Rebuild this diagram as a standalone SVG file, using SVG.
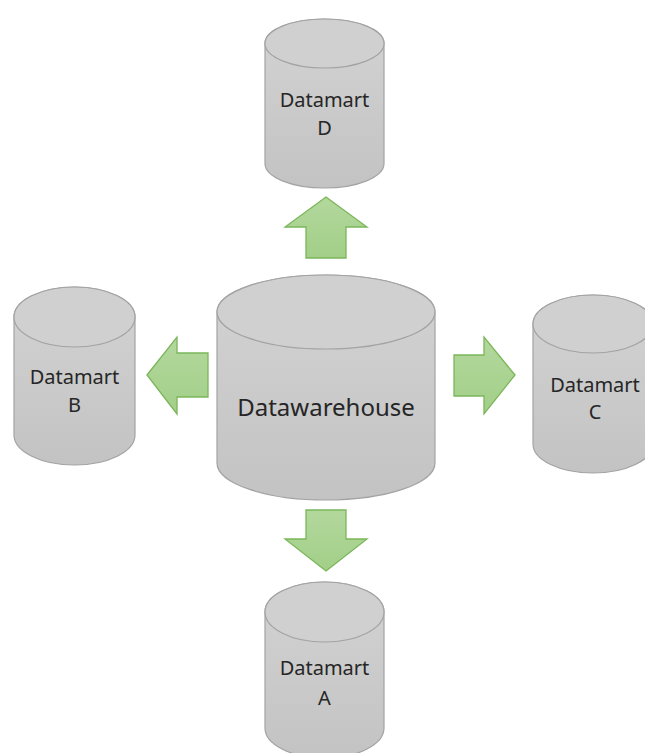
<svg xmlns="http://www.w3.org/2000/svg" width="645" height="753" viewBox="0 0 645 753">
  <defs>
    <linearGradient id="gray" x1="0" y1="0" x2="0" y2="1">
      <stop offset="0" stop-color="#d3d3d3"/>
      <stop offset="1" stop-color="#c3c3c3"/>
    </linearGradient>
    <linearGradient id="green" x1="0" y1="0" x2="0" y2="1">
      <stop offset="0" stop-color="#b3d89d"/>
      <stop offset="1" stop-color="#a2cf88"/>
    </linearGradient>
    <style>
      .body { fill: url(#gray); stroke: #a3a3a3; stroke-width: 1.2; }
      .top { fill: #d0d0d0; stroke: #a3a3a3; stroke-width: 1.2; }
      .lbl { font-family: "Noto Sans", "Open Sans", sans-serif; fill: #262626; text-anchor: middle; }
      .sm { font-size: 20px; }
      .lg { font-size: 24px; }
      .arrow { fill: url(#green); stroke: #7bb65a; stroke-width: 1.3; stroke-linejoin: miter; }
    </style>
  </defs>

  <rect width="645" height="753" fill="#ffffff"/>

  <!-- central warehouse -->
  <g id="datawarehouse">
    <path class="body" d="M217,312 V463 A109,37 0 0 0 435,463 V312 A109,37 0 0 0 217,312 Z"/>
    <ellipse class="top" cx="326" cy="312" rx="109" ry="37"/>
    <text class="lbl lg" x="326" y="416">Datawarehouse</text>
  </g>

  <!-- datamart D (top) -->
  <g id="datamart-d">
    <path class="body" d="M265,43.5 V163.5 A59.5,24.5 0 0 0 384,163.5 V43.5 A59.5,24.5 0 0 0 265,43.5 Z"/>
    <ellipse class="top" cx="324.5" cy="43.5" rx="59.5" ry="24.5"/>
    <text class="lbl sm" x="324.5" y="107">Datamart</text>
    <text class="lbl sm" x="324.5" y="135">D</text>
  </g>

  <!-- datamart B (left) -->
  <g id="datamart-b">
    <path class="body" d="M14,317 V435 A60.5,30 0 0 0 135,435 V317 A60.5,30 0 0 0 14,317 Z"/>
    <ellipse class="top" cx="74.5" cy="317" rx="60.5" ry="30"/>
    <text class="lbl sm" x="74.5" y="384">Datamart</text>
    <text class="lbl sm" x="74.5" y="412">B</text>
  </g>

  <!-- datamart C (right) -->
  <g id="datamart-c">
    <path class="body" d="M533,324 V444 A60,29 0 0 0 653,444 V324 A60,29 0 0 0 533,324 Z"/>
    <ellipse class="top" cx="593" cy="324" rx="60" ry="29"/>
    <text class="lbl sm" x="595" y="392">Datamart</text>
    <text class="lbl sm" x="595" y="419">C</text>
  </g>

  <!-- datamart A (bottom) -->
  <g id="datamart-a">
    <path class="body" d="M265,612 V728 A59.5,30 0 0 0 384,728 V612 A59.5,30 0 0 0 265,612 Z"/>
    <ellipse class="top" cx="324.5" cy="612" rx="59.5" ry="30"/>
    <text class="lbl sm" x="324.5" y="675">Datamart</text>
    <text class="lbl sm" x="324.5" y="705">A</text>
  </g>

  <!-- block arrows from the warehouse to each mart -->
  <g id="connectors">
    <polygon class="arrow" points="326,197 367,227 346,227 346,258 306,258 306,227 285,227"/>
    <polygon class="arrow" points="326,571 367,539 346,539 346,510 306,510 306,539 285,539"/>
    <polygon class="arrow" points="147,375 177,337 177,353 208,353 208,397 177,397 177,414"/>
    <polygon class="arrow" points="515,375 484,337 484,355 454,355 454,396 484,396 484,414"/>
  </g>
</svg>
